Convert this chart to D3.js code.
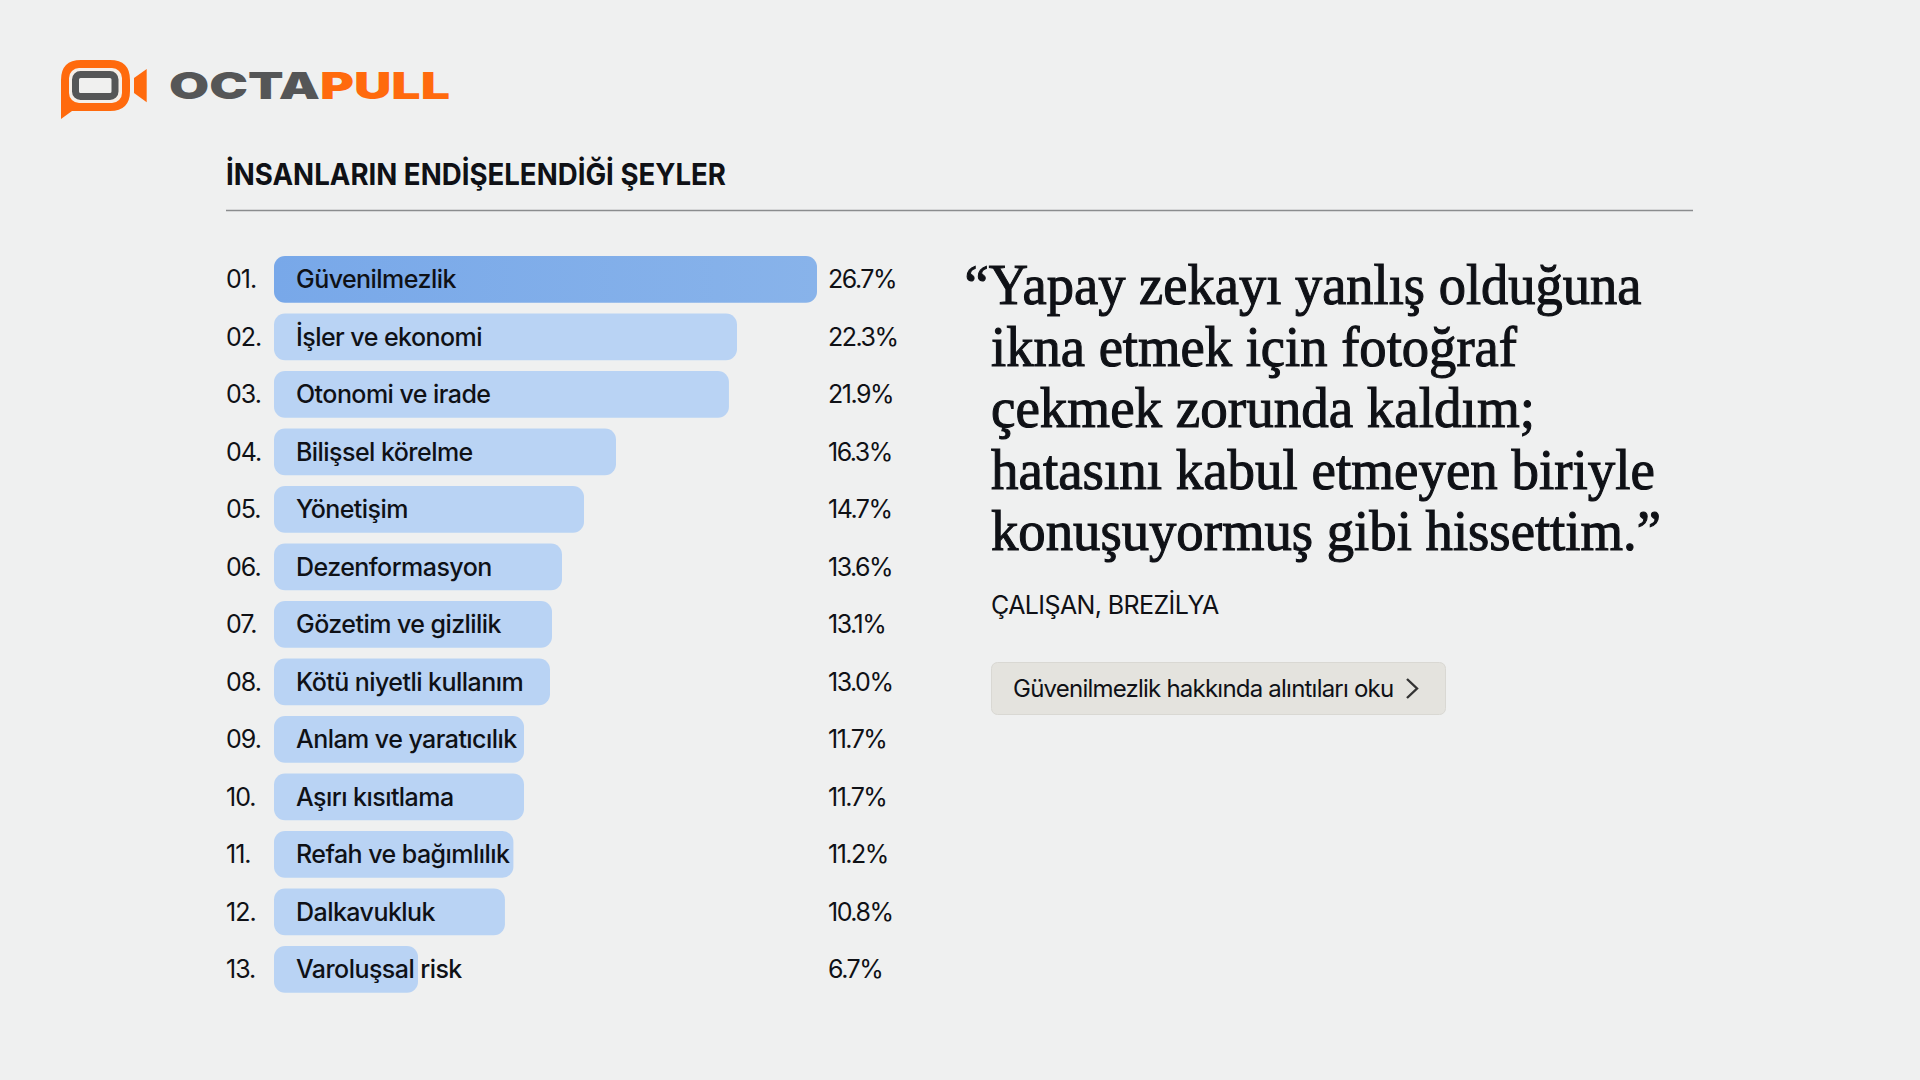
<!DOCTYPE html>
<html>
<head>
  <meta charset="utf-8">
  <title>İnsanların endişelendiği şeyler</title>
  <style type="text/css">
    html, body { margin: 0; padding: 0; background: #eff0f0; }
    svg { display: block; }
    text { font-family: Inter, "Noto Sans", sans-serif; fill: #0f1116; }
    .quote { font-family: "Liberation Serif", serif; stroke: #0f1116; stroke-width: 1.1px; }
  </style>
</head>
<body>

<div id="chart"></div>

<script src="https://d3js.org/d3.v7.min.js"></script>
<script type="text/javascript">
var categories = ["Güvenilmezlik", "İşler ve ekonomi", "Otonomi ve irade", "Bilişsel körelme", "Yönetişim",
  "Dezenformasyon", "Gözetim ve gizlilik", "Kötü niyetli kullanım", "Anlam ve yaratıcılık", "Aşırı kısıtlama",
  "Refah ve bağımlılık", "Dalkavukluk", "Varoluşsal risk"];
var ranks = ["01.", "02.", "03.", "04.", "05.", "06.", "07.", "08.", "09.", "10.", "11.", "12.", "13."];
var values = [26.7, 22.3, 21.9, 16.3, 14.7, 13.6, 13.1, 13.0, 11.7, 11.7, 11.2, 10.8, 6.7];
var title = "İNSANLARIN ENDİŞELENDİĞİ ŞEYLER";
var quoteLines = ["“Yapay zekayı yanlış olduğuna", "ikna etmek için fotoğraf", "çekmek zorunda kaldım;",
  "hatasını kabul etmeyen biriyle", "konuşuyormuş gibi hissettim.”"];
var quoteWidths = [677, 526, 544, 664, 670];
var attribution = "ÇALIŞAN, BREZİLYA";
var buttonLabel = "Güvenilmezlik hakkında alıntıları oku";

var svg = d3.select("#chart").append("svg")
  .attr("width", 1920)
  .attr("height", 1080);

svg.append("rect").attr("width", 1920).attr("height", 1080).attr("fill", "#eff0f0");

var grad = svg.append("defs").append("linearGradient").attr("id", "topbar");
grad.append("stop").attr("offset", "0%").attr("stop-color", "#78a8e9");
grad.append("stop").attr("offset", "100%").attr("stop-color", "#88b3ea");

// logo
var logo = svg.append("g");
logo.append("path")
  .attr("fill", "#ff6a0d")
  .attr("d", "M61 80 Q61 60 81 60 H110 Q130 60 130 80 V91 Q130 111 110 111 H72 L61 119 Z");
logo.append("rect").attr("x", 69).attr("y", 68).attr("width", 53).attr("height", 35).attr("rx", 10).attr("fill", "#f5efe9");
logo.append("rect").attr("x", 75.5).attr("y", 74.5).attr("width", 39.5).attr("height", 22).attr("rx", 5)
  .attr("fill", "#f0f0ef").attr("stroke", "#555657").attr("stroke-width", 7);
logo.append("path")
  .attr("fill", "#ff6a0d")
  .attr("d", "M134 78 L146.7 69 V102.3 L134 93 Z");
var logoText = logo.append("text")
  .attr("x", 169)
  .attr("y", 99)
  .attr("textLength", 281)
  .attr("lengthAdjust", "spacingAndGlyphs")
  .style("font-size", "37px")
  .style("font-weight", 900);
logoText.append("tspan").style("fill", "#555657").text("OCTA");
logoText.append("tspan").style("fill", "#ff6a0d").text("PULL");

// header
svg.append("text")
  .attr("x", 226)
  .attr("y", 185)
  .attr("textLength", 500)
  .attr("lengthAdjust", "spacingAndGlyphs")
  .style("font-size", "30px")
  .style("font-weight", 700)
  .text(title);

svg.append("line")
  .attr("x1", 226).attr("x2", 1693)
  .attr("y1", 210.5).attr("y2", 210.5)
  .attr("stroke", "#8a8c8e")
  .attr("stroke-width", 1.5);

// bars: the lengths in the picture are not quite proportional, hence the extra stops
var x = d3.scaleLinear()
  .domain([0, 6.7, 11.7, 16.3, 22.3, 26.7])
  .range([0, 144, 250, 342, 463, 543]);
var y = d3.scaleBand()
  .domain(categories)
  .range([256, 992.7])
  .paddingInner(0.188);

var rows = svg.append("g").selectAll("g")
  .data(categories)
  .enter()
  .append("g")
  .attr("transform", d => `translate(0,${y(d)})`);

rows.append("rect")
  .attr("x", 274)
  .attr("width", (d, i) => x(values[i]))
  .attr("height", y.bandwidth())
  .attr("rx", 11)
  .attr("fill", (d, i) => i === 0 ? "url(#topbar)" : "#b9d3f4");

rows.append("text")
  .attr("x", 226)
  .attr("y", 32)
  .style("font-size", "25px")
  .style("letter-spacing", "-1px")
  .text((d, i) => ranks[i]);

rows.append("text")
  .attr("x", 296)
  .attr("y", 32)
  .style("font-size", "25px")
  .style("font-weight", 500)
  .style("letter-spacing", "-.55px")
  .text(d => d);

rows.append("text")
  .attr("x", 828)
  .attr("y", 32)
  .style("font-size", "25px")
  .style("letter-spacing", "-1.5px")
  .text((d, i) => d3.format(".1f")(values[i]) + "%");

// quote
svg.append("g").selectAll("text")
  .data(quoteLines)
  .enter()
  .append("text")
  .attr("class", "quote")
  .attr("x", (d, i) => i === 0 ? 964.5 : 991)
  .attr("y", (d, i) => 304 + i * 61.6)
  .attr("textLength", (d, i) => quoteWidths[i])
  .attr("lengthAdjust", "spacingAndGlyphs")
  .style("font-size", "58px")
  .text(d => d);

svg.append("text")
  .attr("x", 991)
  .attr("y", 613.5)
  .style("font-size", "25px")
  .style("letter-spacing", "-.6px")
  .text(attribution);

// button
svg.append("rect")
  .attr("x", 991.5).attr("y", 662.5)
  .attr("width", 454).attr("height", 52)
  .attr("rx", 6)
  .attr("fill", "#e4e3de")
  .attr("stroke", "#d9d8d3");

svg.append("text")
  .attr("x", 1013)
  .attr("y", 697)
  .style("font-size", "24px")
  .style("letter-spacing", "-.78px")
  .text(buttonLabel);

svg.append("path")
  .attr("d", "M1407 679 L1417 688.5 L1407 698")
  .attr("fill", "none")
  .attr("stroke", "#333")
  .attr("stroke-width", 2.4);
</script>
</body>
</html>
